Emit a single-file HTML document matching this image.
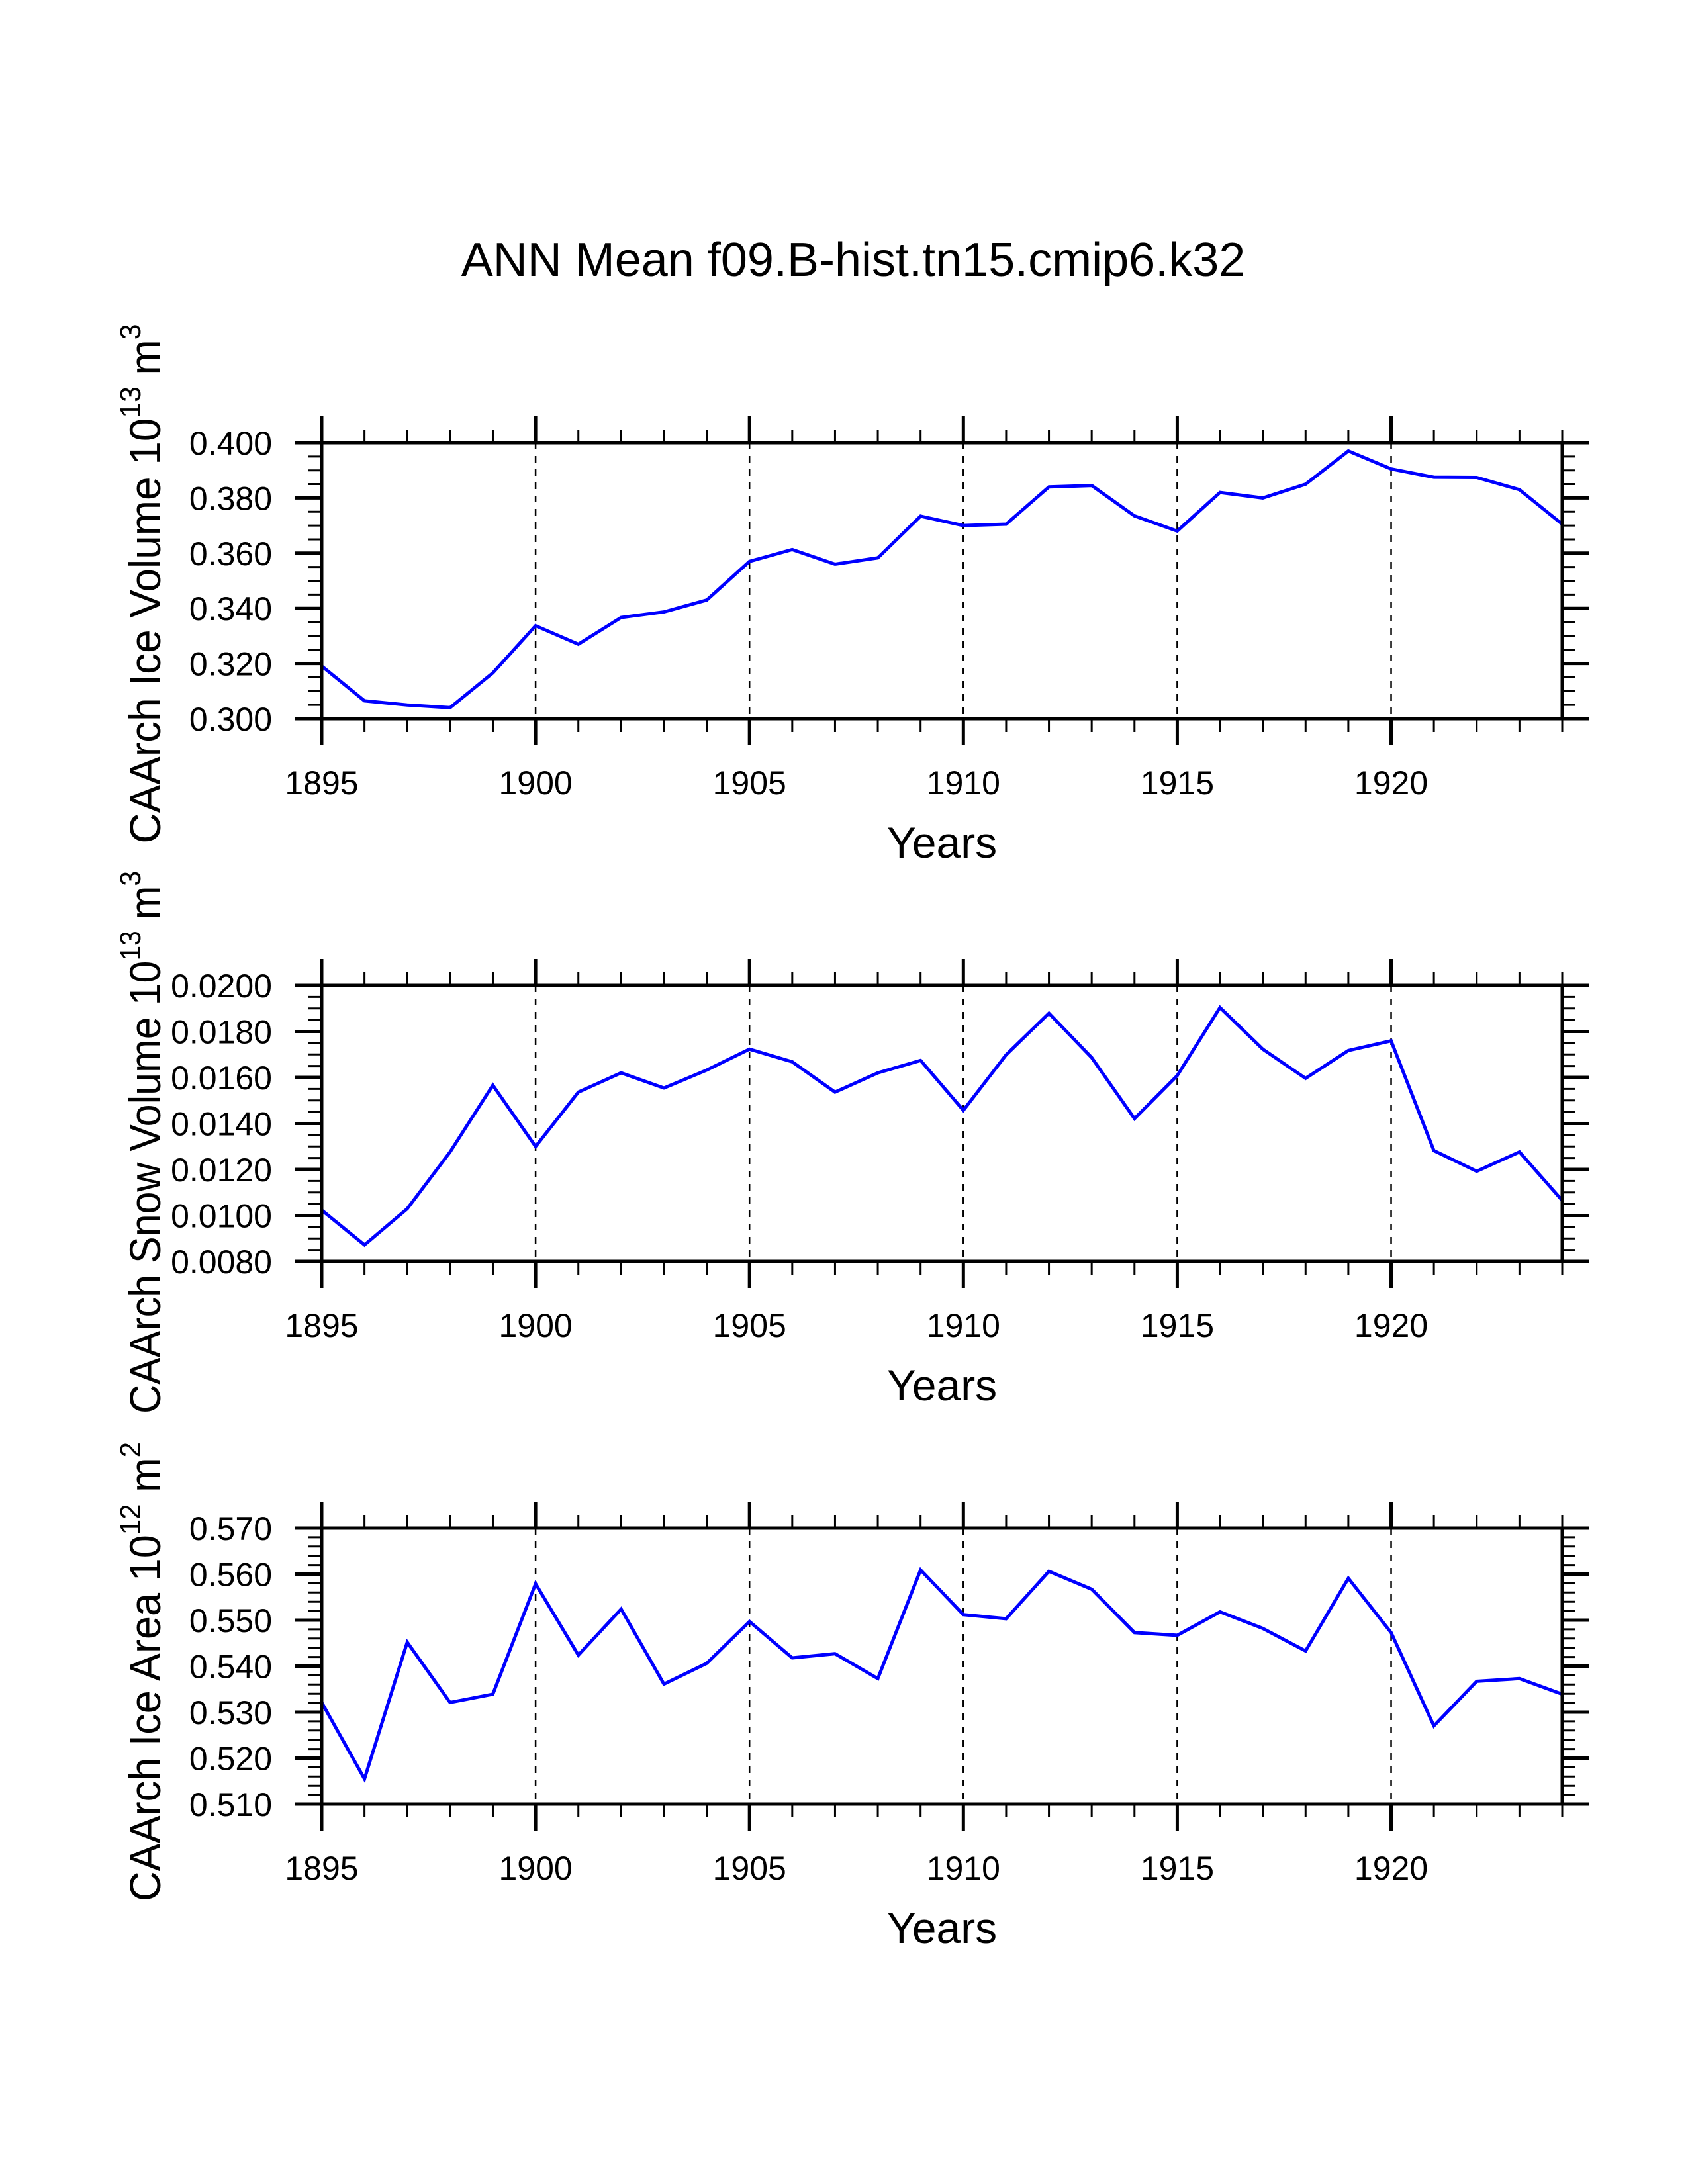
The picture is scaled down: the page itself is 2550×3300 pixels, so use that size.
<!DOCTYPE html>
<html><head><meta charset="utf-8"><style>
html,body{margin:0;padding:0;background:#fff;}
svg{display:block;font-family:"Liberation Sans",sans-serif;}
</style></head><body>
<svg id="chart" width="2550" height="3300" viewBox="0 0 2550 3300" xmlns="http://www.w3.org/2000/svg">
<rect width="2550" height="3300" fill="#fff"/>
<text x="1289" y="417" font-size="72" text-anchor="middle">ANN Mean f09.B-hist.tn15.cmip6.k32</text>
</svg>
<script>
const years = [1895,1896,1897,1898,1899,1900,1901,1902,1903,1904,1905,1906,1907,1908,1909,1910,1911,1912,1913,1914,1915,1916,1917,1918,1919,1920,1921,1922,1923,1924];
const iceVolume = [0.3191,0.3065,0.305,0.304,0.3166,0.3337,0.327,0.3367,0.3387,0.343,0.357,0.3613,0.356,0.3583,0.3734,0.370,0.3705,0.384,0.3845,0.3735,0.368,0.382,0.380,0.385,0.397,0.3905,0.3875,0.3874,0.383,0.3705];
const snowVolume = [0.01023,0.00872,0.01029,0.01276,0.01566,0.0130,0.01536,0.0162,0.01554,0.01632,0.01723,0.01668,0.01536,0.0162,0.01674,0.01457,0.01698,0.01879,0.01686,0.01421,0.01608,0.01904,0.01723,0.01596,0.01717,0.01759,0.01282,0.01192,0.01276,0.01065];
const iceArea = [0.5321,0.5155,0.5452,0.5321,0.5339,0.5579,0.5424,0.5524,0.5361,0.5406,0.5497,0.5418,0.5427,0.5373,0.5609,0.5512,0.5503,0.5606,0.5567,0.5473,0.5467,0.5518,0.5482,0.5433,0.5591,0.5473,0.527,0.5367,0.5373,0.5339];
const xTickLabels = [1895,1900,1905,1910,1915,1920];
const iceVolumeTicks = [0.300,0.320,0.340,0.360,0.380,0.400];
const snowVolumeTicks = [0.0080,0.0100,0.0120,0.0140,0.0160,0.0180,0.0200];
const iceAreaTicks = [0.510,0.520,0.530,0.540,0.550,0.560,0.570];

const NS = "http://www.w3.org/2000/svg";
const svg = document.getElementById('chart');
function mk(tag, attrs, parent){const e=document.createElementNS(NS,tag);for(const k in attrs)e.setAttribute(k,attrs[k]);(parent||svg).appendChild(e);return e;}

const X0=486, X1=2360, H=417;
const xMin=1895, xMax=1924;
function xs(v){return X0+(v-xMin)/(xMax-xMin)*(X1-X0);}

function panel(top, name, values, ticks, minorStep, decimals, labelParts, labelCenter, labelLen){
  const yMin=ticks[0], yMax=ticks[ticks.length-1];
  const ys=v=>top+H-(v-yMin)/(yMax-yMin)*H;
  const g=mk('g',{});
  
  
  xTickLabels.forEach(t=>{ if(t===xMin) return;
    const l=mk('line',{x1:xs(t),x2:xs(t),y1:top,y2:top+H,stroke:'#000','stroke-width':2.5,'stroke-dasharray':'10,10'},g);
    
    
  });
  const pts=years.map((yr,i)=>xs(yr).toFixed(1)+','+ys(values[i]).toFixed(1)).join(' ');
  const pl=mk('polyline',{points:pts,fill:'none',stroke:'#0000ff','stroke-width':5,'stroke-linejoin':'miter'},g);
  
  
  const fr=mk('rect',{x:X0,y:top,width:X1-X0,height:H,fill:'none',stroke:'#000','stroke-width':5},g);
  
  
  for(let yr=xMin; yr<=xMax; yr++){
    const major = xTickLabels.includes(yr);
    const len = major?40:20, w = major?5:3;
    mk('line',{x1:xs(yr),x2:xs(yr),y1:top,y2:top-len,stroke:'#000','stroke-width':w},g);
    mk('line',{x1:xs(yr),x2:xs(yr),y1:top+H,y2:top+H+len,stroke:'#000','stroke-width':w},g);
  }
  xTickLabels.forEach(t=>{
    const tx=mk('text',{x:xs(t),y:top+H+114,'font-size':50,'text-anchor':'middle'},g);
    tx.textContent=t;
    
    
  });
  const nMinor=Math.round((yMax-yMin)/minorStep);
  const majorStep=ticks[1]-ticks[0];
  for(let i=0;i<=nMinor;i++){
    const v=yMin+i*minorStep;
    const major=Math.abs(((v-yMin)/majorStep)-Math.round((v-yMin)/majorStep))<1e-6;
    const len=major?40:20, w=major?5:3;
    mk('line',{x1:X0,x2:X0-len,y1:ys(v),y2:ys(v),stroke:'#000','stroke-width':w},g);
    mk('line',{x1:X1,x2:X1+len,y1:ys(v),y2:ys(v),stroke:'#000','stroke-width':w},g);
  }
  ticks.forEach(t=>{
    const tx=mk('text',{x:411,y:ys(t)+18,'font-size':50,'text-anchor':'end'},g);
    tx.textContent=t.toFixed(decimals);
    
    
  });
  const xt=mk('text',{x:(X0+X1)/2,y:top+H+210,'font-size':66,'text-anchor':'middle'},g);
  xt.textContent='Years';
  
  
  const yt=mk('text',{transform:`translate(242,${labelCenter}) rotate(-90)`,'font-size':66,'text-anchor':'middle',textLength:labelLen,lengthAdjust:'spacingAndGlyphs'},g);
  
  
  labelParts.forEach(p=>{
    const s=mk('tspan',{},yt);
    if(p[1]){s.setAttribute('font-size','44');s.setAttribute('dy','-30');}
    else if(p[2]){s.setAttribute('dy','30');}
    s.textContent=p[0];
  });
}

panel(669,'ice-volume',iceVolume,iceVolumeTicks,0.005,3,
  [['CAArch Ice Volume 10'],['13',1],[' m',0,1],['3',1]],882,785);
panel(1489,'snow-volume',snowVolume,snowVolumeTicks,0.0005,4,
  [['CAArch Snow Volume 10'],['13',1],[' m',0,1],['3',1]],1726,820);
panel(2309,'ice-area',iceArea,iceAreaTicks,0.002,3,
  [['CAArch Ice Area 10'],['12',1],[' m',0,1],['2',1]],2526,694);
</script>
</body></html>
